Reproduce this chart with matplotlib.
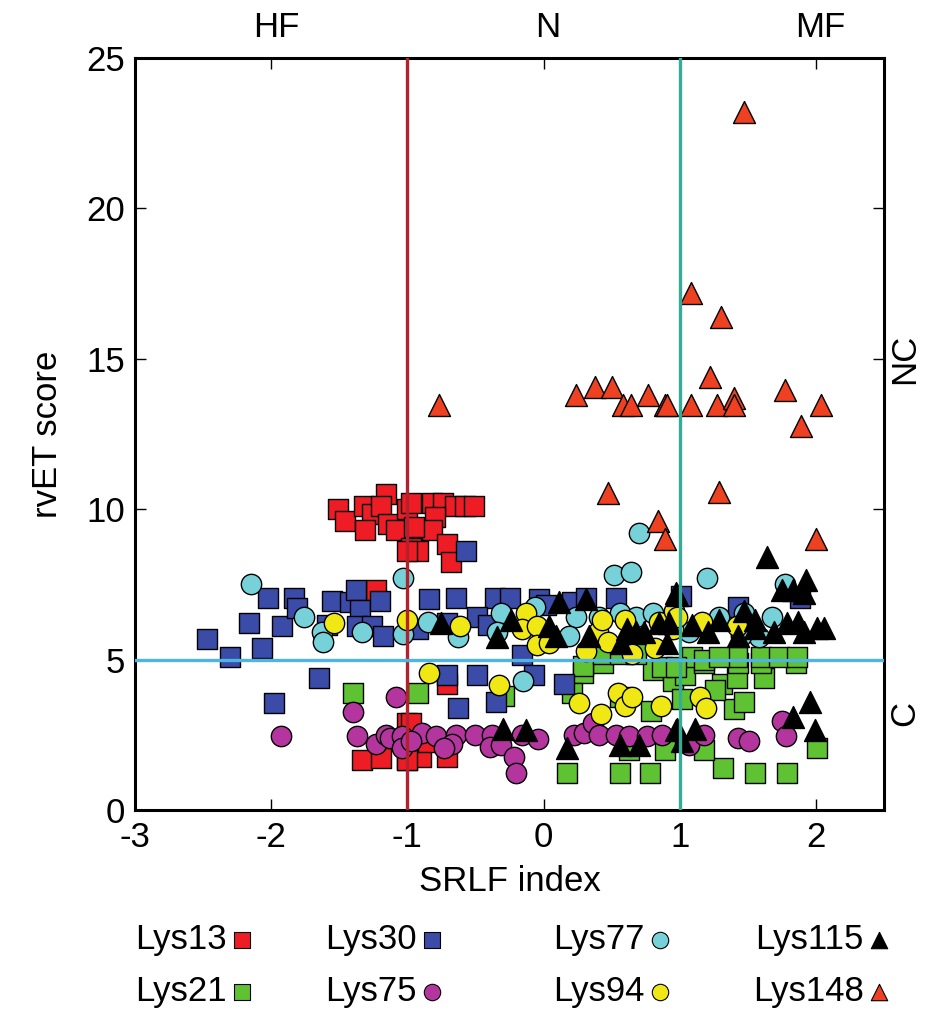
import matplotlib
matplotlib.use("Agg")
import matplotlib.pyplot as plt

plt.rcParams["font.family"] = ["Liberation Sans", "DejaVu Sans"]
plt.rcParams["axes.unicode_minus"] = False

# data (SRLF index, rvET score)
lys13_x = [-1.51, -1.46, -1.32, -1.16, -1.26, -1.19, -1.31, -1.14, -1.08, -1.00, -0.97, -1.23,
           -0.97, -0.82, -0.74, -0.65, -0.58, -0.51, -0.80, -0.82, -0.92, -0.71, -0.68, -1.00, -0.95,
           -1.33, -1.19, -1.00, -1.00, -0.97, -0.90, -0.71, -0.71, -1.00, -0.85]
lys13_y = [10.0, 9.6, 10.1, 10.5, 9.85, 10.1, 9.3, 9.5, 9.3, 10.0, 8.7, 7.3,
           10.2, 10.2, 10.2, 10.1, 10.1, 10.1, 9.75, 9.3, 8.6, 8.85, 8.25, 8.6, 9.4,
           1.66, 1.72, 2.9, 1.66, 2.9, 1.76, 1.76, 4.2, 1.66, 2.26]

lys21_x = [-1.40, -0.92, -0.29, 0.17, 0.56, 0.78, 0.29, 0.21, 0.63, 0.89, 0.79, 0.56, 0.80, 0.95, 0.44,
           1.32, 1.55, 1.79, 2.01, 1.18, 1.40, 1.47, 1.62, 1.31, 1.42, 1.26, 1.04, 1.02, 1.18, 1.43,
           1.60, 1.85, 1.09, 1.18, 1.42, 1.60, 1.73, 1.86, 1.29, 0.29, 0.44, 0.56, 0.68, 0.87, 0.97]
lys21_y = [3.9, 3.9, 3.8, 1.23, 1.23, 1.23, 4.55, 3.9, 2.0, 2.0, 3.3, 3.75, 4.65, 4.3, 4.9,
           1.4, 1.23, 1.23, 2.05, 2.0, 3.35, 3.6, 4.4, 4.2, 4.4, 4.0, 4.5, 3.7, 4.9, 4.9,
           4.9, 4.9, 5.1, 5.0, 5.1, 5.1, 5.1, 5.1, 5.1, 4.8, 5.2, 5.2, 5.2, 4.75, 4.75]

lys30_x = [-2.47, -2.30, -2.16, -2.07, -2.02, -1.92, -1.83, -1.81, -1.55, -1.42, -1.38, -1.35,
           -1.37, -1.26, -1.18, -1.20, -1.59, -1.65, -1.98,
           -0.84, -0.64, -0.57, -0.36, -0.25, -0.03, 0.02, 0.21, 0.31, 0.53, -0.49, -0.71, -0.16,
           -0.92, -0.41, -0.71, -0.49, -0.07, -0.63, -0.35, 0.15, 1.01, 1.43, 1.88]
lys30_y = [5.7, 5.1, 6.2, 5.4, 7.05, 6.1, 7.05, 6.7, 6.95, 6.9, 7.3, 6.65,
           6.1, 6.1, 5.8, 6.95, 6.15, 4.4, 3.55,
           7.0, 7.05, 8.6, 7.05, 7.05, 7.0, 6.8, 6.9, 7.05, 7.05, 6.4, 6.2, 5.15,
           6.0, 6.15, 4.5, 4.5, 4.5, 3.4, 3.6, 4.2, 7.1, 6.75, 7.05]

lys75_x = [-1.93, -1.40, -1.37, -1.23, -1.16, -1.13, -1.04, -1.04, -1.08,
           -0.89, -0.79, -0.64, -0.67, -0.73, -0.50, -0.38, -0.39, -0.31, -0.22, -0.20, -0.16,
           -0.04, 0.22, 0.30, 0.36, 0.41, 0.53, 0.63, 0.76, 0.87, -0.97,
           1.07, 1.18, 1.43, 1.51, 1.75, 1.78]
lys75_y = [2.45, 3.25, 2.45, 2.2, 2.5, 2.4, 2.45, 2.05, 3.75,
           2.55, 2.45, 2.5, 2.2, 2.05, 2.5, 2.5, 2.1, 2.15, 1.76, 1.23, 2.5,
           2.35, 2.5, 2.55, 2.9, 2.5, 2.5, 2.45, 2.45, 2.5, 2.3,
           2.15, 2.5, 2.4, 2.3, 2.95, 2.45]

lys77_x = [-2.15, -1.76, -1.63, -1.62, -1.33, -1.03, -1.03,
           0.70, 0.52, 0.64, -0.85, -0.63, -0.31, -0.34, -0.06, 0.24, 0.19, 0.41, 0.56, 0.68, 0.80,
           -0.15, 1.20, 1.77, 1.68, 1.29, 1.47, 1.58, 1.45, 1.07]
lys77_y = [7.5, 6.4, 5.9, 5.6, 5.9, 7.7, 5.85,
           9.2, 7.8, 7.9, 6.25, 5.75, 6.55, 5.9, 6.75, 6.4, 5.8, 6.4, 6.55, 6.4, 6.55,
           4.3, 7.7, 7.5, 6.4, 6.4, 6.55, 5.75, 5.8, 5.9]

lys94_x = [-1.54, -1.00, -0.61, -0.13, -0.16, -0.05, -0.05, 0.04, 0.40, 0.43, 0.60, 0.47,
           0.65, 0.82, 0.85, 0.31, 0.96, 0.95, -0.84, -0.33, 0.26, 0.42, 0.55, 0.60, 0.65,
           0.86, 1.15, 1.19, 0.98, 1.16, 1.42]
lys94_y = [6.2, 6.3, 6.1, 6.55, 6.0, 6.1, 5.5, 5.55, 5.9, 6.3, 6.3, 5.6,
           5.2, 5.4, 6.25, 5.3, 6.6, 6.0, 4.55, 4.15, 3.55, 3.2, 3.9, 3.45, 3.75,
           3.45, 3.75, 3.4, 6.4, 6.25, 6.1]

lys115_x = [-0.75, -0.34, -0.24, 0.11, 0.31, 0.04, 0.09, 0.33, 0.57, 0.61, 0.68, 0.74, 0.85,
            0.91, 0.92, 0.97, 1.64, 1.93, 1.75, 1.83, 1.91, 1.29, 1.47, 1.55, 1.79, 1.87,
            2.01, 2.06, 1.21, 1.43, 1.55, 1.69, 1.91, 1.09, 0.98,
            -0.30, -0.13, 0.17, 0.56, 0.70, 0.97, 0.98, 1.11, 1.02, 1.96, 1.83, 1.99]
lys115_y = [6.2, 5.75, 6.3, 6.9, 7.0, 6.1, 5.8, 5.8, 5.55, 6.0, 5.9, 5.9, 6.2,
            5.55, 6.2, 7.2, 8.4, 7.65, 7.3, 7.3, 7.2, 6.3, 6.6, 6.3, 6.2, 6.25,
            6.05, 6.05, 5.9, 5.8, 6.05, 5.9, 5.9, 6.15, 7.15,
            2.7, 2.65, 2.05, 2.15, 2.15, 2.65, 2.7, 2.7, 2.3, 3.6, 3.1, 2.65]

lys148_x = [1.47, 1.08, 1.30, -0.77, 0.24, 0.38, 0.50, 0.58, 0.64, 0.77, 0.89, 0.91, 1.08,
            1.22, 1.27, 1.40, 1.40, 1.77, 2.04, 1.89, 0.47, 0.84, 0.89, 1.29, 2.00]
lys148_y = [23.2, 17.2, 16.4, 13.45, 13.8, 14.05, 14.05, 13.45, 13.45, 13.8, 13.45, 13.45, 13.45,
            14.4, 13.45, 13.7, 13.45, 13.95, 13.45, 12.75, 10.55, 9.6, 9.0, 10.57, 9.0]

series = [
    ("Lys13", lys13_x, lys13_y, "s", "#ee1c25"),
    ("Lys21", lys21_x, lys21_y, "s", "#5ec232"),
    ("Lys30", lys30_x, lys30_y, "s", "#3a4ba8"),
    ("Lys75", lys75_x, lys75_y, "o", "#b5359f"),
    ("Lys77", lys77_x, lys77_y, "o", "#76d1d9"),
    ("Lys94", lys94_x, lys94_y, "o", "#f0e814"),
    ("Lys115", lys115_x, lys115_y, "^", "#000000"),
    ("Lys148", lys148_x, lys148_y, "^", "#ee4122"),
]

FS = 25

fig = plt.figure(figsize=(9.29, 10.16), dpi=100)
ax = fig.add_axes([0.1453, 0.2028, 0.8063, 0.7401])

for name, xs, ys, mk, col in series:
    size = 215 if mk != "^" else 250
    ax.scatter(xs, ys, s=size, marker=mk, c=col, edgecolors="black", linewidths=1.0, zorder=3)

ax.axvline(-1, color="#b5202e", lw=2.4, zorder=4)
ax.axvline(1, color="#36ab98", lw=2.4, zorder=4)
ax.axhline(5, color="#4fb3e3", lw=2.4, zorder=4)

ax.set_xlim(-3, 2.5)
ax.set_ylim(0, 25)
ax.set_xticks([-3, -2, -1, 0, 1, 2])
ax.set_yticks([0, 5, 10, 15, 20, 25])
ax.tick_params(direction="in", length=8, width=1.0, labelsize=FS, right=True, top=True)
ax.tick_params(axis="x", pad=8)
ax.tick_params(axis="y", pad=7)
for sp in ax.spines.values():
    sp.set_linewidth(2.2)
ax.set_xlabel("SRLF index", fontsize=FS, labelpad=8)
ax.set_ylabel("rvET score", fontsize=FS, labelpad=16)

# region labels
ax.text(-1.96, 26.0, "HF", fontsize=FS, ha="center", va="center")
ax.text(0.03, 26.0, "N", fontsize=FS, ha="center", va="center")
ax.text(2.03, 26.0, "MF", fontsize=FS, ha="center", va="center")
ax.text(2.65, 15, "NC", fontsize=FS, ha="center", va="center", rotation=90)
ax.text(2.65, 3.2, "C", fontsize=FS, ha="center", va="center", rotation=90)

# legend drawn on an overlay in pixel units
lax = fig.add_axes([0, 0, 1, 1])
lax.set_xlim(0, 929)
lax.set_ylim(1016, 0)
lax.axis("off")
leg_pos = [(227, 940), (227, 992), (417, 940), (417, 992),
           (645, 940), (645, 992), (864, 940), (864, 992)]
for (name, xs, ys, mk, col), (px, py) in zip(series, leg_pos):
    lax.text(px, py, name, fontsize=FS, ha="right", va="center")
    lax.scatter([px + 15], [py], s=140, marker=mk, c=col, edgecolors="black", linewidths=0.8)

fig.savefig("out.png", dpi=100)
